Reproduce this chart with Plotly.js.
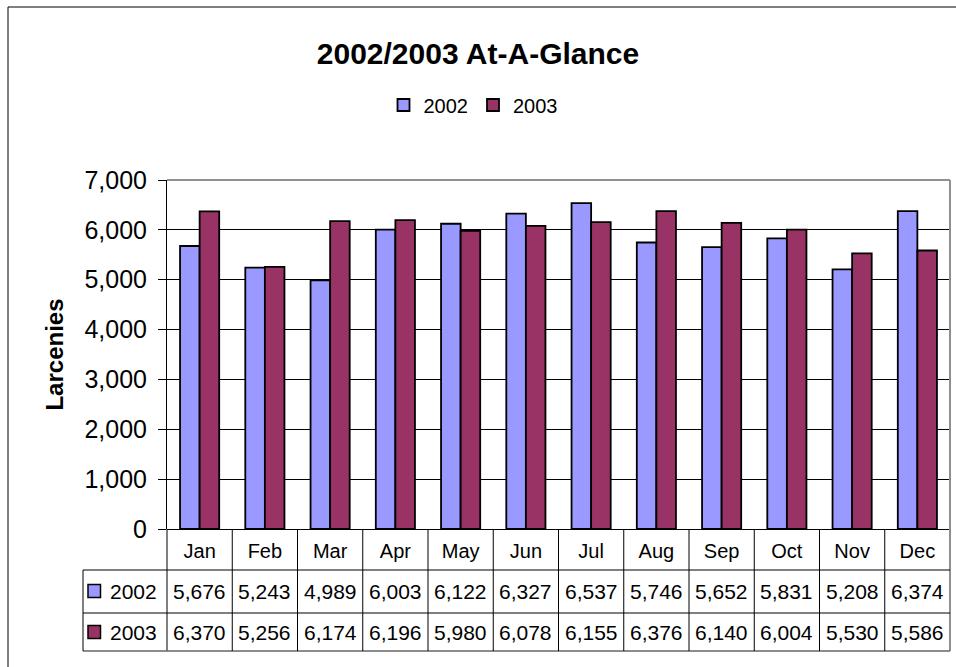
<!DOCTYPE html>
<html>
<head>
<meta charset="utf-8">
<script src="https://cdn.plot.ly/plotly-3.0.1.min.js"></script>
<style>
  html, body { margin: 0; padding: 0; background: #fff; }
  #chart { width: 956px; height: 667px; }
</style>
</head>
<body>
<div id="chart"></div>
<script>
const months = ["Jan","Feb","Mar","Apr","May","Jun","Jul","Aug","Sep","Oct","Nov","Dec"];
const seriesNames = ["2002", "2003"];
const values2002 = [5676, 5243, 4989, 6003, 6122, 6327, 6537, 5746, 5652, 5831, 5208, 6374];
const values2003 = [6370, 5256, 6174, 6196, 5980, 6078, 6155, 6376, 6140, 6004, 5530, 5586];
const yTicks = [0, 1000, 2000, 3000, 4000, 5000, 6000, 7000];

const colors = ["#9999FF", "#993366"];
const FONT = "Arial, 'Liberation Sans', sans-serif";

// Plot area: 167..950 px wide, 180..529 px tall
const W = 783, H = 349, L = 167, B = 529;
const px = x => (x - L) / W;
const py = y => (B - y) / H;

const traces = [values2002, values2003].map((vals, i) => ({
  type: "bar",
  name: seriesNames[i],
  x: months,
  y: vals,
  marker: { color: colors[i], line: { color: "#000", width: 1.8 } },
  hoverinfo: "x+y+name"
}));

const rowTop = py(570), row2 = py(613), rowBottom = py(651);
const rowCenters = [py(591), py(632)];
const legLeft = px(83);

const shapes = [];
// outer border
shapes.push({ type: "rect", xref: "paper", yref: "paper", x0: px(8), x1: px(963), y0: py(673), y1: py(7),
  line: { color: "#000", width: 1 }, fillcolor: "rgba(0,0,0,0)", layer: "below" });
// plot top border (grey)
shapes.push({ type: "line", xref: "paper", yref: "paper", x0: 0, x1: 1, y0: 1, y1: 1, line: { color: "#909090", width: 2 } });
// right border (grey) running through the table
shapes.push({ type: "line", xref: "paper", yref: "paper", x0: 1, x1: 1, y0: 1, y1: rowBottom, line: { color: "#909090", width: 2 } });
// left line through the table
shapes.push({ type: "line", xref: "paper", yref: "paper", x0: 0, x1: 0, y0: 0, y1: rowBottom, line: { color: "#000", width: 1 } });
// horizontal table lines
[rowTop, row2].forEach(y => shapes.push({ type: "line", xref: "paper", yref: "paper", x0: legLeft, x1: 1, y0: y, y1: y, line: { color: "#000", width: 1 } }));
shapes.push({ type: "line", xref: "paper", yref: "paper", x0: legLeft, x1: 1, y0: rowBottom, y1: rowBottom, line: { color: "#666", width: 1.5 } });
// legend column left border
shapes.push({ type: "line", xref: "paper", yref: "paper", x0: legLeft, x1: legLeft, y0: rowTop, y1: rowBottom, line: { color: "#000", width: 1 } });
// category separators
months.slice(1).forEach((m, i) => shapes.push({ type: "line", xref: "x", yref: "paper", x0: i + 0.5, x1: i + 0.5, y0: 0, y1: rowBottom, line: { color: "#000", width: 1 } }));
// table legend keys
rowCenters.forEach((yc, i) => shapes.push({ type: "rect", xref: "paper", yref: "paper",
  x0: px(88), x1: px(100.5), y0: yc - 6.5 / H, y1: yc + 6.5 / H,
  fillcolor: colors[i], line: { color: "#000", width: 1.5 } }));

const annotations = [];
[values2002, values2003].forEach((vals, r) => {
  vals.forEach((v, i) => annotations.push({
    xref: "x", yref: "paper", x: months[i], y: rowCenters[r], text: v.toLocaleString("en-US"),
    showarrow: false, xanchor: "center", yanchor: "middle", font: { family: FONT, size: 21, color: "#000" }
  }));
  annotations.push({
    xref: "paper", yref: "paper", x: px(108), y: rowCenters[r], text: seriesNames[r],
    showarrow: false, xanchor: "left", yanchor: "middle", font: { family: FONT, size: 21, color: "#000" }
  });
});

const layout = {
  width: 956, height: 667,
  margin: { l: 167, r: 6, t: 180, b: 138, pad: 0 },
  paper_bgcolor: "#fff", plot_bgcolor: "#fff",
  font: { family: FONT, color: "#000" },
  title: { text: "<b>2002/2003 At-A-Glance</b>", font: { family: FONT, size: 30, color: "#000" },
    x: 0.5, xref: "container", y: 1 - 53 / 667, yref: "container", yanchor: "middle" },
  showlegend: true,
  legend: { orientation: "h", x: px(473), xanchor: "center", y: py(105), yanchor: "middle",
    font: { family: FONT, size: 20, color: "#000" }, bgcolor: "rgba(0,0,0,0)", itemclick: false, traceorder: "normal" },
  barmode: "group", bargap: 0.4, bargroupgap: 0,
  xaxis: {
    type: "category", range: [-0.5, 11.5], fixedrange: true, automargin: false,
    showgrid: false, zeroline: false, showline: false, ticks: "",
    tickfont: { family: FONT, size: 20, color: "#000" }, ticklabelstandoff: 8
  },
  yaxis: {
    range: [0, 7000], tickvals: yTicks, tickformat: ",d", fixedrange: true, automargin: false,
    showgrid: true, gridcolor: "#000", gridwidth: 1,
    zeroline: true, zerolinecolor: "#000", zerolinewidth: 1,
    showline: true, linecolor: "#000", linewidth: 1,
    ticks: "outside", ticklen: 8, tickcolor: "#000", tickwidth: 1,
    tickfont: { family: FONT, size: 25, color: "#000" }, ticklabelstandoff: 6,
    title: { text: "<b>Larcenies</b>", font: { family: FONT, size: 24, color: "#000" }, standoff: 14 }
  },
  shapes: shapes,
  annotations: annotations
};

Plotly.newPlot("chart", traces, layout, { displayModeBar: false, staticPlot: false });
</script>
</body>
</html>
